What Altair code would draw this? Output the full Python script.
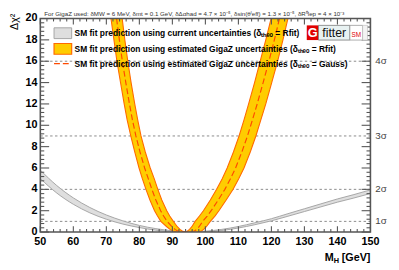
import altair as alt
import pandas as pd
import numpy as np

# ---------------- data ----------------
# grey band: SM fit with current uncertainties (MH, lower edge, upper edge)
gray_mh = [50, 55, 60, 65, 70, 75, 80, 85, 90, 95, 100, 105, 110, 115, 120, 125, 130, 135, 140, 145, 150]
gray_lo = [5.0, 3.65, 2.6, 1.8, 1.2, 0.75, 0.42, 0.18, 0.04, 0.0, 0.02, 0.15, 0.38, 0.69, 1.05, 1.48, 1.92, 2.36, 2.8, 3.19, 3.61]
gray_hi = [5.8, 4.35, 3.2, 2.3, 1.6, 1.05, 0.62, 0.32, 0.12, 0.02, 0.08, 0.25, 0.52, 0.87, 1.25, 1.72, 2.18, 2.64, 3.1, 3.51, 3.95]

# orange band: GigaZ (Rfit); MH positions of the band edges at given delta chi2 levels
dchi = [0, 0.1, 0.25, 0.5, 1, 1.5, 2, 3, 4, 5, 6, 7.5, 9, 10.5, 12, 14, 16, 18, 20]
lo_out = [91.5, 90.2, 89.3, 88.3, 86.5, 85.5, 84.6, 83.2, 82.0, 80.9, 79.9, 78.6, 77.4, 76.3, 75.4, 74.3, 73.2, 72.3, 71.4]
lo_in = [93.8, 93.0, 92.3, 91.5, 90.3, 89.2, 88.3, 86.8, 85.6, 84.5, 83.3, 81.8, 80.5, 79.5, 78.6, 77.5, 76.5, 75.6, 74.8]
ri_in = [93.8, 94.6, 95.2, 95.9, 96.9, 98.2, 99.4, 101.5, 103.4, 105.1, 106.6, 108.5, 110.2, 111.7, 113.1, 114.9, 116.6, 118.3, 119.9]
ri_out = [97.5, 98.8, 99.5, 100.3, 101.5, 102.9, 104.1, 106.3, 108.4, 110.1, 111.7, 113.6, 115.3, 116.8, 118.3, 120.1, 121.9, 123.5, 125.0]
# GigaZ (Gauss) dashed curve
gauss_l = [93.9, 91.6, 90.8, 89.9, 88.4, 87.35, 86.45, 85.0, 83.8, 82.7, 81.6, 80.2, 78.95, 77.9, 77.0, 75.9, 74.85, 73.95, 73.1]
gauss_r = [93.9, 96.7, 97.35, 98.1, 99.2, 100.55, 101.75, 103.9, 105.9, 107.6, 109.15, 111.05, 112.75, 114.25, 115.7, 117.5, 119.25, 120.9, 122.45]

sigma_levels = [1, 4, 9, 16]
sigma_labels = ["1σ", "2σ", "3σ", "4σ"]

x_major = list(range(50, 151, 10))
x_minor = [v for v in range(50, 151, 2) if v % 10 != 0]
y_major = list(range(0, 21, 2))
y_minor = [round(v, 1) for v in np.arange(0, 20.01, 0.4) if abs(v / 2 - round(v / 2)) > 1e-6]

legend_texts = [
    "SM fit prediction using current uncertainties (δₜₕₑₒ = Rfit)",
    "SM fit prediction using estimated GigaZ uncertainties (δₜₕₑₒ = Rfit)",
    "SM fit prediction using estimated GigaZ uncertainties (δₜₕₑₒ = Gauss)",
]
top_note = ("For GigaZ used: δMW = 6 MeV, δmt = 0.1 GeV, δΔαhad = 4.7 × 10⁻⁵, "
            "δsin(θˡeff) = 1.3 × 10⁻⁵, δR⁰lep = 4 × 10⁻³")

# ---------------- layout ----------------
W, H = 337, 218
FONT = "Liberation Sans"
AX = "#555555"
ORANGE_EDGE = "#FF6A00"
GOLD = "#FFCC00"

xs = alt.Scale(domain=[50, 150], nice=False, zero=False)
ys = alt.Scale(domain=[0, 20], nice=False, zero=False)

gray = pd.DataFrame({"mh": gray_mh, "lo": gray_lo, "hi": gray_hi})
band = pd.concat([
    pd.DataFrame({"d": dchi, "a": lo_out, "b": lo_in, "br": "L"}),
    pd.DataFrame({"d": dchi, "a": ri_in, "b": ri_out, "br": "R"}),
])
n = len(dchi)
outer = pd.DataFrame({"x": lo_out[::-1] + ri_out, "d": dchi[::-1] + dchi, "i": list(range(2 * n))})
inner = pd.DataFrame({"x": lo_in[::-1] + ri_in, "d": dchi[::-1] + dchi, "i": list(range(2 * n))})
gauss = pd.DataFrame({"x": gauss_l[::-1] + gauss_r, "d": dchi[::-1] + dchi, "i": list(range(2 * n))})
sig = pd.DataFrame({"y": sigma_levels, "t": sigma_labels})

one = pd.DataFrame({"a": [0]})
NOAX = None

# axis labels as text on the shared scales
xlab = alt.Chart(pd.DataFrame({"v": x_major, "t": [str(v) for v in x_major]})).mark_text(
    font=FONT, fontSize=11, fontWeight="bold", color="black", align="center", baseline="top").encode(
    x=alt.X("v:Q", scale=xs, axis=NOAX), y=alt.value(H + 4), text="t:N")
ylab = alt.Chart(pd.DataFrame({"v": y_major, "t": [str(v) for v in y_major]})).mark_text(
    font=FONT, fontSize=11, fontWeight="bold", color="black", align="right", baseline="middle").encode(
    y=alt.Y("v:Q", scale=ys, axis=NOAX), x=alt.value(-3), text="t:N")

grid = alt.Chart(sig).mark_rule(color="#8a8a8a", strokeDash=[2.5, 2.5], strokeWidth=1).encode(
    y=alt.Y("y:Q", scale=ys, axis=NOAX), x=alt.value(0), x2=alt.value(W))

gray_area = alt.Chart(gray).mark_area(color="#dedede", clip=True, interpolate="monotone").encode(
    x=alt.X("mh:Q", scale=xs, axis=NOAX), y=alt.Y("lo:Q", scale=ys, axis=NOAX), y2="hi:Q")
gray_lo_line = alt.Chart(gray).mark_line(color="#a5a5a5", strokeWidth=1, clip=True, interpolate="monotone").encode(
    x=alt.X("mh:Q", scale=xs, axis=NOAX), y=alt.Y("lo:Q", scale=ys, axis=NOAX))
gray_hi_line = alt.Chart(gray).mark_line(color="#a5a5a5", strokeWidth=1, clip=True, interpolate="monotone").encode(
    x=alt.X("mh:Q", scale=xs, axis=NOAX), y=alt.Y("hi:Q", scale=ys, axis=NOAX))

orange_area = alt.Chart(band).mark_area(orient="horizontal", color=GOLD, clip=True).encode(
    y=alt.Y("d:Q", scale=ys, axis=NOAX), x=alt.X("a:Q", scale=xs, axis=NOAX), x2="b:Q", detail="br:N")


def edge(df, **kw):
    return alt.Chart(df).mark_line(clip=True, **kw).encode(
        x=alt.X("x:Q", scale=xs, axis=NOAX), y=alt.Y("d:Q", scale=ys, axis=NOAX), order="i:Q")


outer_line = edge(outer, color=ORANGE_EDGE, strokeWidth=1.1)
inner_line = edge(inner, color=ORANGE_EDGE, strokeWidth=1.1)
gauss_line = edge(gauss, color="#FF4A00", strokeWidth=1.2, strokeDash=[6, 3])


def yticks(vals, x0, x1):
    return alt.Chart(pd.DataFrame({"y": vals})).mark_rule(color=AX, strokeWidth=1.1).encode(
        y=alt.Y("y:Q", scale=ys, axis=NOAX), x=alt.value(x0), x2=alt.value(x1))


def xticks(vals, y0, y1):
    return alt.Chart(pd.DataFrame({"x": vals})).mark_rule(color=AX, strokeWidth=1.1).encode(
        x=alt.X("x:Q", scale=xs, axis=NOAX), y=alt.value(y0), y2=alt.value(y1))


ticks = [
    yticks(y_major, 0, 9), yticks(y_minor, 0, 4),
    yticks(y_major, W, W - 9), yticks(y_minor, W, W - 4),
    xticks(x_major, H, H - 6), xticks(x_minor, H, H - 3),
    xticks(x_major, 0, 6), xticks(x_minor, 0, 3),
]

frame = alt.Chart(one).mark_rect(filled=False, stroke=AX, strokeWidth=1.6).encode(
    x=alt.value(0), x2=alt.value(W), y=alt.value(0), y2=alt.value(H))

sig_text = alt.Chart(sig).mark_text(align="left", baseline="middle", font=FONT, fontSize=10,
                                    color="#444444", dx=5).encode(
    y=alt.Y("y:Q", scale=ys, axis=NOAX), x=alt.value(W), text="t:N")

# legend
leg_rows = [15, 31, 46]
leg_df = pd.DataFrame({"t": legend_texts, "row": leg_rows})
leg_text = alt.Chart(leg_df).mark_text(align="left", baseline="middle", font=FONT, fontSize=8.6,
                                       fontWeight="bold", color="black").encode(
    x=alt.value(35), y=alt.Y("row:Q", scale=None, axis=NOAX), text="t:N")
sym1 = alt.Chart(one).mark_rect(fill="#dedede", stroke="#a5a5a5", strokeWidth=1).encode(
    x=alt.value(14), x2=alt.value(32), y=alt.value(leg_rows[0] - 5.5), y2=alt.value(leg_rows[0] + 5.5))
sym2 = alt.Chart(one).mark_rect(fill=GOLD, stroke=ORANGE_EDGE, strokeWidth=1.2).encode(
    x=alt.value(14), x2=alt.value(32), y=alt.value(leg_rows[1] - 5.5), y2=alt.value(leg_rows[1] + 5.5))
sym3 = alt.Chart(one).mark_rule(color="#FF4A00", strokeWidth=1.3, strokeDash=[6, 3]).encode(
    x=alt.value(14), x2=alt.value(32), y=alt.value(leg_rows[2]))

# Gfitter logo
logo = [
    alt.Chart(one).mark_rect(fill="#E00000").encode(
        x=alt.value(272), x2=alt.value(284), y=alt.value(7), y2=alt.value(22)),
    alt.Chart(one).mark_rect(fill="#E8F2F2", stroke="#777777", strokeWidth=0.8).encode(
        x=alt.value(284), x2=alt.value(316), y=alt.value(7), y2=alt.value(22)),
    alt.Chart(one).mark_rect(fill="white", stroke="#999999", strokeWidth=0.8).encode(
        x=alt.value(316), x2=alt.value(329), y=alt.value(7), y2=alt.value(22)),
    alt.Chart(one).mark_rect(fill="#f4f4f4", stroke="#bbbbbb", strokeWidth=0.6).encode(
        x=alt.value(329), x2=alt.value(334), y=alt.value(7), y2=alt.value(22)),
    alt.Chart(pd.DataFrame({"t": ["G"]})).mark_text(font=FONT, fontSize=13, fontWeight="bold", color="white",
                                                    align="center", baseline="middle").encode(
        x=alt.value(278), y=alt.value(15), text="t:N"),
    alt.Chart(pd.DataFrame({"t": ["fitter"]})).mark_text(font=FONT, fontSize=12.5, color="#111111",
                                                         align="center", baseline="middle").encode(
        x=alt.value(300), y=alt.value(15), text="t:N"),
    alt.Chart(pd.DataFrame({"t": ["SM"]})).mark_text(font=FONT, fontSize=6.5, color="#E00000",
                                                     align="center", baseline="middle").encode(
        x=alt.value(322.5), y=alt.value(17), text="t:N"),
]

# titles / notes
ytitle = alt.Chart(pd.DataFrame({"t": ["Δχ²"]})).mark_text(font=FONT, fontSize=11, angle=270, align="right",
                                                           baseline="middle", color="black").encode(
    x=alt.value(-26), y=alt.value(-5), text="t:N")
xt_geV = alt.Chart(pd.DataFrame({"t": ["[GeV]"]})).mark_text(font=FONT, fontSize=11, fontWeight="bold",
                                                            align="right", baseline="alphabetic").encode(
    x=alt.value(W), y=alt.value(H + 30), text="t:N")
xt_h = alt.Chart(pd.DataFrame({"t": ["H"]})).mark_text(font=FONT, fontSize=7.5, fontWeight="bold",
                                                      align="right", baseline="alphabetic").encode(
    x=alt.value(W - 32), y=alt.value(H + 32), text="t:N")
xt_m = alt.Chart(pd.DataFrame({"t": ["M"]})).mark_text(font=FONT, fontSize=11, fontWeight="bold",
                                                      align="right", baseline="alphabetic").encode(
    x=alt.value(W - 37.5), y=alt.value(H + 30), text="t:N")
note = alt.Chart(pd.DataFrame({"t": [top_note]})).mark_text(font=FONT, fontSize=6.3, color="#333333",
                                                            align="left", baseline="alphabetic").encode(
    x=alt.value(4), y=alt.value(-3), text="t:N")

chart = alt.layer(
    grid, gray_area, gray_lo_line, gray_hi_line,
    orange_area, outer_line, inner_line, gauss_line,
    *ticks, frame, xlab, ylab, sig_text,
    sym1, sym2, sym3, leg_text, *logo,
    ytitle, xt_geV, xt_h, xt_m, note,
).properties(
    width=W, height=H,
    autosize=alt.AutoSizeParams(type="none"),
    padding={"left": 33, "top": 8, "right": 21, "bottom": 36},
).configure_view(stroke=None)

chart.save("out.html", embed_options={"renderer": "svg", "actions": False})
